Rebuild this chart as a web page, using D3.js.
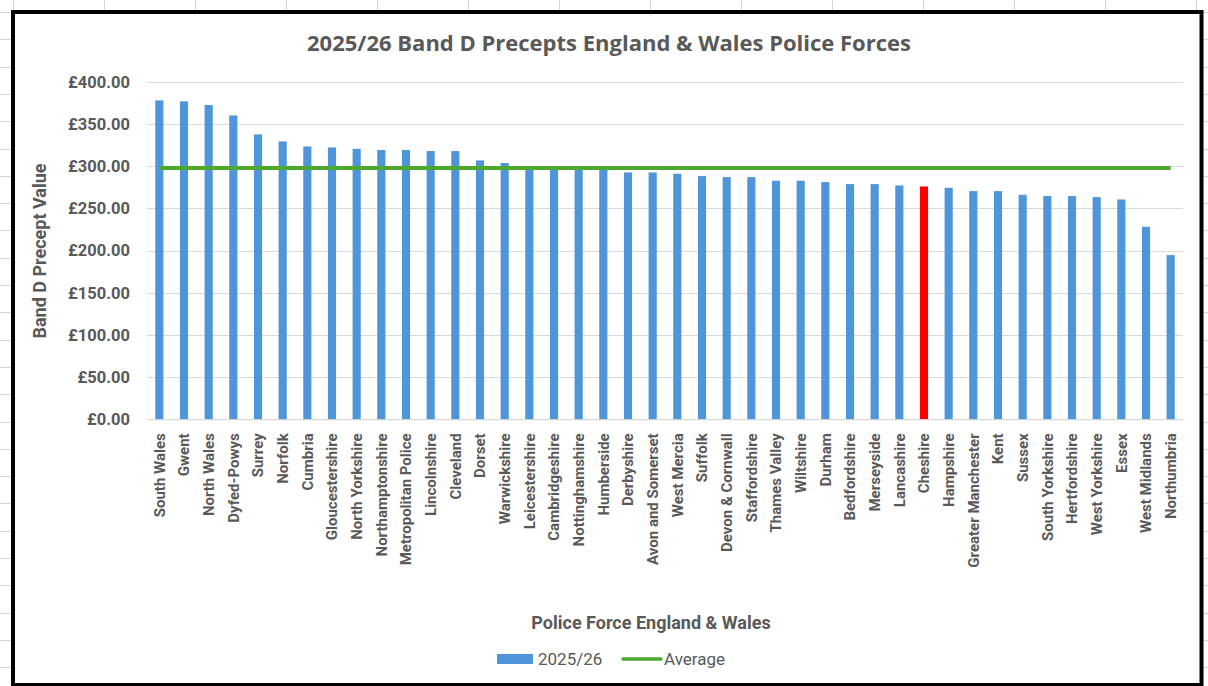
<!DOCTYPE html>
<html><head><meta charset="utf-8">
<script src="https://cdn.jsdelivr.net/npm/d3@7"></script>
<style>
html,body{margin:0;padding:0;background:#fff;overflow:hidden}
svg{display:block}
text{font-family:Roboto,"Noto Sans",sans-serif}
</style></head>
<body>
<svg id="chart" width="1208" height="686"></svg>
<script>
const forces = ["South Wales","Gwent","North Wales","Dyfed-Powys","Surrey","Norfolk","Cumbria","Gloucestershire","North Yorkshire","Northamptonshire","Metropolitan Police","Lincolnshire","Cleveland","Dorset","Warwickshire","Leicestershire","Cambridgeshire","Nottinghamshire","Humberside","Derbyshire","Avon and Somerset","West Mercia","Suffolk","Devon & Cornwall","Staffordshire","Thames Valley","Wiltshire","Durham","Bedfordshire","Merseyside","Lancashire","Cheshire","Hampshire","Greater Manchester","Kent","Sussex","South Yorkshire","Hertfordshire","West Yorkshire","Essex","West Midlands","Northumbria"];
const precepts = [378.2,377.0,372.7,360.4,337.8,329.5,323.6,322.4,320.8,319.3,319.3,318.1,318.1,307.0,303.9,298.5,297.8,297.0,296.0,292.7,292.7,291.2,288.4,287.2,287.2,282.9,282.9,281.3,278.9,278.9,277.3,276.1,274.5,270.6,270.6,266.2,264.7,264.7,263.5,260.7,228.3,194.7];
const averageValue = 297.9;
const highlighted = ["Cheshire"];
const yTicks = [0,50,100,150,200,250,300,350,400];
const title = "2025/26 Band D Precepts England & Wales Police Forces";
const xTitle = "Police Force England & Wales";
const yTitle = "Band D Precept Value";
const legendLabels = ["2025/26","Average"];

const W = 1208, H = 686;
const svg = d3.select("#chart");
const grey = "#595959";

// spreadsheet grid background
const bg = svg.append("g");
d3.range(13, W, 91).forEach(x => bg.append("line").attr("x1", x+0.5).attr("x2", x+0.5).attr("y1", 0).attr("y2", H).attr("stroke", "#d6d6d6"));
d3.range(12, H, 27.3).forEach(y => bg.append("line").attr("y1", Math.round(y)+0.5).attr("y2", Math.round(y)+0.5).attr("x1", 0).attr("x2", W).attr("stroke", "#d6d6d6"));

// chart area
svg.append("rect").attr("x", 13).attr("y", 12).attr("width", 1188.5).attr("height", 673)
  .attr("fill", "#fff").attr("stroke", "#000").attr("stroke-width", 4);

const plot = {left: 147, right: 1183, top: 82, bottom: 419.3};
const x = d3.scaleBand().domain(forces).range([plot.left, plot.right]).paddingInner(0.67).paddingOuter(0.335);
const y = d3.scaleLinear().domain([0, 400]).range([plot.bottom, plot.top]);

// gridlines
svg.append("g").selectAll("line").data(yTicks).join("line")
  .attr("x1", plot.left).attr("x2", plot.right)
  .attr("y1", d => Math.round(y(d))+0.5).attr("y2", d => Math.round(y(d))+0.5)
  .attr("stroke", "#d9d9d9").attr("stroke-width", 1);

// y axis labels
const yAxis = d3.axisLeft(y).tickValues(yTicks).tickSize(0).tickPadding(0)
  .tickFormat(d => "£" + d3.format(".2f")(d));
const ya = svg.append("g").attr("transform", `translate(130,0)`).call(yAxis);
ya.select(".domain").remove();
ya.selectAll("text").attr("fill", grey).attr("font-size", 16.5).attr("font-weight", 700);

// bars
svg.append("g").selectAll("rect").data(forces).join("rect")
  .attr("x", d => x(d)).attr("width", x.bandwidth())
  .attr("y", (d,i) => y(precepts[i])).attr("height", (d,i) => y(0) - y(precepts[i]))
  .attr("fill", d => highlighted.includes(d) ? "#ff0000" : "#4e95d9");

// x axis
const xAxis = d3.axisBottom(x).tickSize(0).tickPadding(0);
const xa = svg.append("g").attr("transform", `translate(0,${plot.bottom})`).call(xAxis);
xa.select(".domain").attr("stroke", "#d9d9d9").attr("d", `M${plot.left},0.5H${plot.right}`);
xa.selectAll("text").attr("fill", grey).attr("font-size", 15).attr("font-weight", 700)
  .attr("transform", "rotate(-90)").attr("text-anchor", "end")
  .attr("x", -14).attr("y", 0).attr("dy", "0.35em");

// average line
const line = d3.line().x(d => x(d) + x.bandwidth()/2).y(() => y(averageValue));
svg.append("path").datum(forces).attr("d", line)
  .attr("fill", "none").attr("stroke", "#4ea72e").attr("stroke-width", 4);

// titles
svg.append("text").attr("x", 609).attr("y", 51).attr("text-anchor", "middle")
  .attr("fill", grey).attr("font-size", 22).attr("font-weight", 700)
  .style("font-family", "'Open Sans', Roboto, sans-serif").text(title);
svg.append("text").attr("transform", "translate(46,251) rotate(-90)").attr("text-anchor", "middle")
  .attr("fill", grey).attr("font-size", 18).attr("font-weight", 700).text(yTitle);
svg.append("text").attr("x", 651).attr("y", 629).attr("text-anchor", "middle")
  .attr("fill", grey).attr("font-size", 18).attr("font-weight", 700).text(xTitle);

// legend
const lg = svg.append("g");
lg.append("rect").attr("x", 497).attr("y", 654).attr("width", 36).attr("height", 10).attr("fill", "#4e95d9");
lg.append("text").attr("x", 538).attr("y", 665).attr("fill", grey).attr("font-size", 17).text(legendLabels[0]);
lg.append("line").attr("x1", 623).attr("x2", 661).attr("y1", 659).attr("y2", 659).attr("stroke", "#4ea72e").attr("stroke-width", 3.5).attr("stroke-linecap", "round");
lg.append("text").attr("x", 664).attr("y", 665).attr("fill", grey).attr("font-size", 17).text(legendLabels[1]);
</script>
</body></html>
